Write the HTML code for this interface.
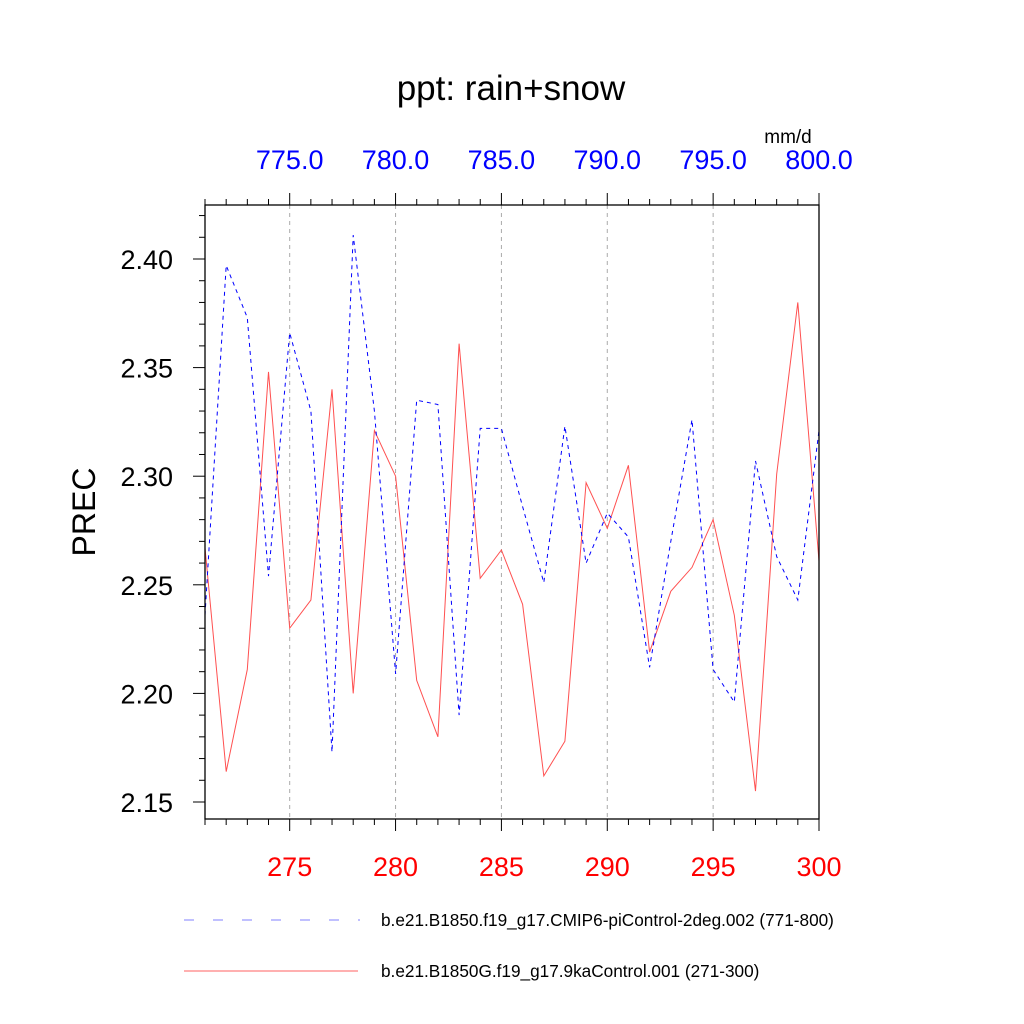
<!DOCTYPE html>
<html><head><meta charset="utf-8"><style>
html,body{margin:0;padding:0;background:#fff}
svg{display:block;font-family:"Liberation Sans",sans-serif}
</style></head><body>
<svg id="chart" width="1024" height="1024" viewBox="0 0 1024 1024">
<text x="511" y="100" font-size="35" text-anchor="middle">ppt: rain+snow</text>
<text x="788" y="143" font-size="19" text-anchor="middle">mm/d</text>
<text x="84" y="512" font-size="32" text-anchor="middle" transform="rotate(-90 84 512)" dominant-baseline="central">PREC</text>
<g id="grid"></g>
<g id="series"></g>
<rect x="205" y="205" width="614" height="614" fill="none" stroke="#000" stroke-width="1.3"/>
<g id="axes"></g>
<g>
<line x1="184" y1="920" x2="360" y2="920" stroke="#8080ff" stroke-width="1" stroke-dasharray="10,19"/>
<text x="381" y="926" font-size="17.2">b.e21.B1850.f19_g17.CMIP6-piControl-2deg.002 (771-800)</text>
<line x1="184" y1="971" x2="358" y2="971" stroke="#ff6060" stroke-width="1"/>
<text x="381" y="977" font-size="17.2">b.e21.B1850G.f19_g17.9kaControl.001 (271-300)</text>
</g>
</svg>
<script>
const yearsBottom = [271,272,273,274,275,276,277,278,279,280,281,282,283,284,285,286,287,288,289,290,291,292,293,294,295,296,297,298,299,300];
const redValues = [2.267,2.164,2.211,2.348,2.230,2.243,2.340,2.200,2.321,2.300,2.206,2.180,2.361,2.253,2.266,2.241,2.162,2.178,2.297,2.276,2.305,2.219,2.247,2.258,2.280,2.236,2.155,2.301,2.380,2.261];
const blueValues = [2.236,2.397,2.373,2.254,2.366,2.330,2.173,2.411,2.330,2.209,2.335,2.333,2.190,2.322,2.322,2.286,2.251,2.323,2.260,2.283,2.272,2.212,2.270,2.326,2.211,2.196,2.307,2.263,2.243,2.321];
const bottomTicks = [275,280,285,290,295,300];
const topTickLabels = ["775.0","780.0","785.0","790.0","795.0","800.0"];
const yTicks = [2.15,2.20,2.25,2.30,2.35,2.40];
const yTickLabels = ["2.15","2.20","2.25","2.30","2.35","2.40"];

const NS="http://www.w3.org/2000/svg";
const X0=205,X1=819,Y0=205,Y1=819;
const xMin=271,xMax=300;
const yPerUnit=2172, yRef=2.40, yRefPx=259;
function xs(v){return X0+(v-xMin)/(xMax-xMin)*(X1-X0);}
function ys(v){return yRefPx-(v-yRef)*yPerUnit;}
function mk(tag,attrs,parent){const e=document.createElementNS(NS,tag);for(const k in attrs)e.setAttribute(k,attrs[k]);parent.appendChild(e);return e;}
const grid=document.getElementById('grid'),axes=document.getElementById('axes'),series=document.getElementById('series');

bottomTicks.forEach((t,i)=>{
  if(t<xMax){const g=mk('line',{x1:xs(t),x2:xs(t),y1:Y0,y2:Y1,stroke:'#aaa','stroke-width':1,'stroke-dasharray':'4,4'},grid);
  
  }
  const b=mk('text',{x:xs(t),y:876,'font-size':27,'text-anchor':'middle',fill:'#ff0000'},axes);b.textContent=t;
  
  
  const tp=mk('text',{x:xs(t),y:169,'font-size':27,'text-anchor':'middle',fill:'#0000ff'},axes);tp.textContent=topTickLabels[i];
  
  
});
for(let y=xMin;y<=xMax;y++){
  const major=(y%5===0);const L=major?12:6;
  const a=mk('line',{x1:xs(y),x2:xs(y),y1:Y1,y2:Y1+L,stroke:'#000','stroke-width':1},axes);
  
  
  const b=mk('line',{x1:xs(y),x2:xs(y),y1:Y0,y2:Y0-L,stroke:'#000','stroke-width':1},axes);
  
  
}
for(let k=214;k<=242;k++){
  const v=k/100;const p=ys(v);if(p<Y0||p>Y1)continue;
  const major=(k%5===0);const L=major?12:6;
  const a=mk('line',{x1:X0,x2:X0-L,y1:p,y2:p,stroke:'#000','stroke-width':1},axes);
  
  
}
yTicks.forEach((t,i)=>{
  const e=mk('text',{x:173,y:ys(t)+10,'font-size':27,'text-anchor':'end'},axes);e.textContent=yTickLabels[i];
  
  
});
function line(vals,color,dash,name){
  const d=vals.map((v,i)=>(i?'L':'M')+xs(yearsBottom[i]).toFixed(1)+','+ys(v).toFixed(1)).join('');
  const p=mk('path',{d:d,fill:'none',stroke:color,'stroke-width':1},series);
  if(dash)p.setAttribute('stroke-dasharray',dash);
  
  
}
line(redValues,'#ff5050',null,'series-9ka-control');
line(blueValues,'#0000ff','4,4','series-pi-control');
</script>
</body></html>
